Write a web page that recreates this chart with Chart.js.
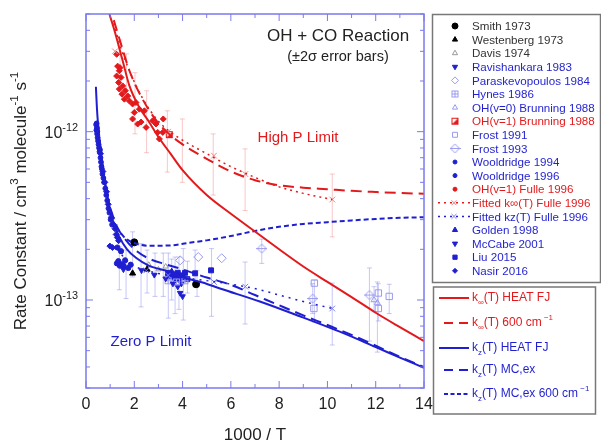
<!DOCTYPE html>
<html>
<head>
<meta charset="utf-8">
<script src="https://cdn.jsdelivr.net/npm/chart.js@4.4.1/dist/chart.umd.min.js"></script>
<style>
  html, body { margin: 0; padding: 0; background: #fff; }
</style>
</head>
<body>
<canvas id="chart" width="601" height="445"></canvas>
<script>
// ---- curves (1000/T, k) ----
const kInfHeatX = [0.97, 1.2, 1.5, 1.8, 2.2, 2.6, 3.0, 3.5, 4.0, 5.0, 6.0, 7.0, 8.0, 9.0, 10.0, 11.0, 12.0, 13.0, 14.0];
const kInfHeatY = [5.0e-12, 3.9e-12, 2.7e-12, 1.87e-12, 1.4e-12, 1.15e-12, 9.3e-13, 7.4e-13, 5.9e-13, 4.2e-13, 3.25e-13, 2.55e-13, 2.0e-13, 1.58e-13, 1.28e-13, 1.04e-13, 8.4e-14, 6.9e-14, 5.7e-14];
const kInf600X = [1.15, 1.4, 1.8, 2.3, 2.9, 3.4, 4, 5, 6, 7, 8, 9, 10, 11, 12, 13, 14];
const kInf600Y = [4.6e-12, 3.5e-12, 2.3e-12, 1.6e-12, 1.17e-12, 9.8e-13, 8.4e-13, 6.9e-13, 5.8e-13, 5.15e-13, 4.8e-13, 4.65e-13, 4.55e-13, 4.45e-13, 4.38e-13, 4.32e-13, 4.28e-13];
const kInfFulleX = [1.15, 1.4, 1.8, 2.3, 2.9, 3.4, 4, 5, 6, 7, 8, 9, 10.2];
const kInfFulleY = [4.4e-12, 3.3e-12, 2.3e-12, 1.62e-12, 1.2e-12, 1.02e-12, 8.9e-13, 7.4e-13, 6.2e-13, 5.35e-13, 4.7e-13, 4.3e-13, 3.95e-13];
const kInfFulleMarks = [[1.2, 3.0e-12], [3.4, 1.0e-12], [5.3, 7.2e-13], [6.6, 5.6e-13], [10.2, 3.95e-13]];

const kzHeatX = [0.41, 0.45, 0.5, 0.55, 0.6, 0.7, 0.8, 0.9, 1.0, 1.13, 1.38, 1.7, 2.07, 2.6, 3.45, 3.9, 4.83, 5.55, 7.2, 8.86, 10.66, 12, 13, 14];
const kzHeatY = [1.85e-12, 1.4e-12, 1.1e-12, 9.2e-13, 7.9e-13, 6.0e-13, 4.8e-13, 3.95e-13, 3.35e-13, 2.92e-13, 2.37e-13, 2.0e-13, 1.78e-13, 1.6e-13, 1.47e-13, 1.38e-13, 1.27e-13, 1.17e-13, 9.8e-14, 8.0e-14, 6.35e-14, 5.25e-14, 4.55e-14, 3.95e-14];
const kzMcX = [0.5, 0.6, 0.7, 0.8, 0.9, 1.1, 1.3, 1.66, 2.1, 2.65, 3.3, 4, 5, 6, 7, 8, 9, 10, 11, 12, 13, 14];
const kzMcY = [1.1e-12, 8.0e-13, 6.1e-13, 4.9e-13, 4.05e-13, 3.2e-13, 2.7e-13, 2.26e-13, 1.95e-13, 1.75e-13, 1.63e-13, 1.52e-13, 1.36e-13, 1.23e-13, 1.07e-13, 9.3e-14, 8.1e-14, 7.1e-14, 6.2e-14, 5.35e-14, 4.6e-14, 4.0e-14];
const kz600X = [1.25, 1.6, 2.0, 2.6, 3.5, 4.2, 5, 6, 7, 8, 9, 10, 11, 12, 13, 14];
const kz600Y = [2.7e-13, 2.35e-13, 2.18e-13, 2.1e-13, 2.11e-13, 2.18e-13, 2.26e-13, 2.4e-13, 2.57e-13, 2.72e-13, 2.83e-13, 2.9e-13, 2.97e-13, 3.03e-13, 3.08e-13, 3.1e-13];
const kzFulleX = [1.3, 1.8, 2.5, 3.4, 4.5, 5.4, 6.6, 7.2, 8, 9, 10.2];
const kzFulleY = [2.0e-13, 1.65e-13, 1.5e-13, 1.4e-13, 1.33e-13, 1.28e-13, 1.2e-13, 1.15e-13, 1.07e-13, 9.8e-14, 8.9e-14];
const kzFulleMarks = [[2.5, 1.5e-13], [3.4, 1.4e-13], [5.3, 1.28e-13], [6.6, 1.2e-13], [10.2, 8.9e-14]];

// ---- measurements [1000/T, k] ----
const smith = [[2.0, 2.2e-13], [4.56, 1.24e-13]];
const westenberg = [[1.93, 1.44e-13], [2.53, 1.52e-13]];
const davis = [[2.6, 1.62e-13], [3.0, 1.52e-13], [3.3, 1.58e-13]];
const ravishankara = [[1.55, 1.52e-13], [2.3, 1.5e-13], [2.83, 1.41e-13], [3.3, 1.34e-13], [3.6, 1.25e-13]];
const paraskevopoulos = [[3.9, 1.72e-13], [4.65, 1.8e-13], [5.62, 1.77e-13]];
const hynes = [[3.4, 1.3e-13], [3.75, 1.28e-13], [4.1, 1.3e-13]];
const brunning0 = [[11.93, 1.0e-13], [12.07, 9.6e-14]];
const brunning1 = [[3.45, 9.6e-13]];
const frost91 = [[9.46, 1.26e-13], [9.44, 8.9e-14], [12.11, 1.1e-13], [12.11, 8.9e-14], [12.56, 1.05e-13]];
const frost93 = [[7.28, 2.02e-13], [9.39, 1.02e-13], [11.74, 1.07e-13]];
const wooldridge94 = [[1.28, 1.65e-13], [1.34, 1.7e-13], [1.4, 1.6e-13], [1.48, 1.63e-13], [1.55, 1.6e-13], [1.62, 1.72e-13], [1.75, 1.55e-13], [1.85, 1.62e-13], [1.3, 2.05e-13], [1.45, 1.95e-13]];
const wooldridge96 = [[0.42, 1.1e-12], [0.43, 1.02e-12], [0.44, 1.12e-12], [0.45, 1.05e-12], [0.46, 9.7e-13], [0.47, 1.0e-12], [0.48, 9.2e-13], [0.5, 8.8e-13], [0.52, 8.4e-13], [0.54, 8.0e-13], [0.56, 7.6e-13], [0.58, 7.8e-13], [0.6, 7.0e-13], [0.62, 6.6e-13], [0.64, 6.2e-13], [0.66, 6.0e-13], [0.68, 5.6e-13], [0.72, 5.3e-13], [0.75, 5.0e-13], [0.8, 4.6e-13], [0.84, 4.2e-13], [0.88, 3.9e-13], [0.93, 3.5e-13], [0.97, 3.3e-13], [1.02, 3.0e-13], [1.08, 2.8e-13]];
const fulle = [[1.27, 2.88e-12], [1.41, 2.4e-12], [1.31, 2.45e-12], [1.38, 2.3e-12], [1.27, 2.14e-12], [1.45, 2.1e-12], [1.35, 1.96e-12], [1.52, 1.87e-12], [1.38, 1.79e-12], [1.63, 1.75e-12], [1.49, 1.67e-12], [1.73, 1.63e-12], [1.59, 1.56e-12], [1.8, 1.52e-12], [1.93, 1.46e-12], [2.07, 1.49e-12], [2.21, 1.36e-12], [2.0, 1.3e-12], [2.42, 1.33e-12], [1.93, 1.19e-12], [2.28, 1.14e-12], [2.14, 1.11e-12], [2.49, 1.06e-12], [2.76, 1.16e-12], [2.9, 1.11e-12], [2.97, 9.9e-13], [3.04, 9.05e-13], [3.18, 9.9e-13], [3.2, 1.19e-12]];
const golden = [[3.55, 1.48e-13], [3.85, 1.32e-13]];
const mccabe = [[3.8, 1.2e-13], [3.9, 1.1e-13], [4.0, 1.05e-13], [3.95, 1.25e-13]];
const liu = [[3.4, 1.45e-13], [3.5, 1.38e-13], [3.6, 1.42e-13], [3.7, 1.35e-13], [3.8, 1.45e-13], [3.9, 1.4e-13], [4.0, 1.37e-13], [4.1, 1.45e-13], [4.2, 1.33e-13], [4.52, 1.44e-13], [5.18, 1.5e-13]];
const nasir = [[0.6, 7.4e-13], [0.7, 5.8e-13], [0.78, 5.0e-13], [0.85, 4.4e-13], [0.92, 3.7e-13], [0.99, 2.09e-13], [1.05, 3.1e-13], [1.1, 2.05e-13], [1.15, 2.8e-13], [1.2, 2.65e-13], [1.25, 2.45e-13], [1.3, 2.35e-13], [1.35, 2.25e-13]];

// error bars [1000/T, low, high]
const errRed = [[1.41, 1.79e-12, 3.5e-12], [1.68, 1.52e-12, 2.9e-12], [2.03, 9.7e-13, 2.24e-12], [2.51, 7.5e-13, 1.75e-12], [3.37, 5.75e-13, 1.33e-12], [3.99, 5.0e-13, 1.19e-12], [5.27, 4.2e-13, 9.7e-13], [6.59, 3.4e-13, 7.9e-13], [10.2, 2.37e-13, 5.6e-13]];
const errBlue = [[1.38, 1.15e-13, 2.07e-13], [1.66, 1.02e-13, 1.98e-13], [1.93, 1.37e-13, 2.54e-13], [2.28, 9.1e-14, 2.16e-13], [2.53, 1.1e-13, 1.98e-13], [2.86, 1.05e-13, 1.9e-13], [3.2, 1.05e-13, 1.9e-13], [3.41, 7.8e-14, 1.9e-13], [3.55, 1.0e-13, 1.75e-13], [3.69, 8.3e-14, 1.8e-13], [3.85, 8.8e-14, 1.8e-13], [4.03, 7.6e-14, 2.02e-13], [4.2, 1.1e-13, 1.7e-13], [4.52, 1.2e-13, 1.98e-13], [4.6, 1.05e-13, 1.5e-13], [5.2, 8e-14, 2.02e-13], [6.59, 7.2e-14, 1.68e-13], [7.28, 1.65e-13, 2.3e-13], [9.46, 7.4e-14, 1.31e-13], [9.39, 8.3e-14, 1.25e-13], [10.2, 5.4e-14, 1.26e-13], [11.74, 5.7e-14, 1.55e-13], [11.93, 8.5e-14, 1.2e-13], [12.07, 4.9e-14, 1.28e-13], [12.11, 7.5e-14, 1.25e-13], [12.56, 8.3e-14, 1.24e-13]];

const xTicks = [0, 2, 4, 6, 8, 10, 12, 14];
const yTickValues = [1e-13, 1e-12];
const yTickExps = ['-13', '-12'];

const FONT = '"Liberation Sans", Arial, sans-serif';
const RED = '#e3191c';
const BLUE = '#1f1fd1';
const LIGHT = '#9a9af0';
const FRAME = '#7a7aee';

function marker(w, draw) {
    const c = document.createElement('canvas');
    c.width = w; c.height = w;
    draw(c.getContext('2d'));
    return c;
}
const halfSquare = marker(9, g => {
    g.strokeStyle = RED; g.fillStyle = RED; g.lineWidth = 1;
    g.strokeRect(1.5, 1.5, 6, 6);
    g.beginPath(); g.moveTo(7.5, 1.5); g.lineTo(7.5, 7.5); g.lineTo(1.5, 7.5); g.closePath(); g.fill();
});
const boxPlus = marker(9, g => {
    g.strokeStyle = LIGHT; g.lineWidth = 1;
    g.strokeRect(1.5, 1.5, 6, 6);
    g.beginPath(); g.moveTo(4.5, 1.5); g.lineTo(4.5, 7.5); g.moveTo(1.5, 4.5); g.lineTo(7.5, 4.5); g.stroke();
});
const diamondBar = marker(11, g => {
    g.strokeStyle = LIGHT; g.lineWidth = 1;
    g.beginPath(); g.moveTo(5.5, 1); g.lineTo(10, 5.5); g.lineTo(5.5, 10); g.lineTo(1, 5.5); g.closePath();
    g.moveTo(0, 5.5); g.lineTo(11, 5.5); g.stroke();
});

function curve(xs, ys, color, dash, width) {
    return {
        data: xs.map((x, i) => ({ x: x, y: ys[i] })),
        showLine: true, borderColor: color, borderWidth: width, borderDash: dash,
        pointRadius: 0, cubicInterpolationMode: 'monotone'
    };
}
function points(arr, style, color, fill, radius, rotation) {
    return {
        data: arr.map(p => ({ x: p[0], y: p[1] })),
        showLine: false, pointStyle: style, pointRadius: radius, pointRotation: rotation || 0,
        borderColor: color, backgroundColor: fill ? color : 'rgba(0,0,0,0)', pointBorderWidth: 1
    };
}

const datasets = [
    curve(kInfHeatX, kInfHeatY, RED, [], 2),
    curve(kInf600X, kInf600Y, RED, [11, 6], 2),
    curve(kInfFulleX, kInfFulleY, RED, [2, 4], 1.5),
    curve(kzHeatX, kzHeatY, BLUE, [], 2),
    curve(kzMcX, kzMcY, BLUE, [11, 6], 2),
    curve(kz600X, kz600Y, BLUE, [5, 3], 2),
    curve(kzFulleX, kzFulleY, BLUE, [2, 5], 1.5),
    points(kInfFulleMarks, 'crossRot', '#f08080', false, 4),
    points(kzFulleMarks, 'crossRot', '#8080f0', false, 4),
    points(smith, 'circle', '#000', true, 3.5),
    points(westenberg, 'triangle', '#000', true, 3.5),
    points(davis, 'triangle', '#999', false, 3),
    points(ravishankara, 'triangle', BLUE, true, 3.2, 180),
    points(paraskevopoulos, 'rectRot', LIGHT, false, 4.5),
    points(hynes, boxPlus, LIGHT, false, 4),
    points(brunning0, 'triangle', LIGHT, false, 3.5),
    points(brunning1, halfSquare, RED, true, 4),
    points(frost91, 'rect', LIGHT, false, 4.5),
    points(frost93, diamondBar, LIGHT, false, 5),
    points(wooldridge94, 'circle', BLUE, true, 2.6),
    points(wooldridge96, 'circle', BLUE, true, 2.4),
    points(fulle, 'rectRot', RED, true, 3),
    points(golden, 'triangle', BLUE, true, 3.2),
    points(mccabe, 'triangle', BLUE, true, 3.2, 180),
    points(liu, 'rect', BLUE, true, 3.5),
    points(nasir, 'rectRot', BLUE, true, 3)
];

// legend rows: name, colour, marker
const legendNames = ['Smith 1973', 'Westenberg 1973', 'Davis 1974', 'Ravishankara 1983', 'Paraskevopoulos 1984', 'Hynes 1986', 'OH(v=0) Brunning 1988', 'OH(v=1) Brunning 1988', 'Frost 1991', 'Frost 1993', 'Wooldridge 1994', 'Wooldridge 1996', 'OH(v=1) Fulle 1996', 'Fitted k\u221E(T) Fulle 1996', 'Fitted kz(T) Fulle 1996', 'Golden 1998', 'McCabe 2001', 'Liu 2015', 'Nasir 2016'];
const legendText = ['#333', '#333', '#333', BLUE, BLUE, BLUE, BLUE, RED, BLUE, BLUE, BLUE, BLUE, RED, RED, BLUE, BLUE, BLUE, BLUE, BLUE];
const legendMarks = [
    ['circle', '#000', true, 3], ['triangle', '#000', true, 3], ['triangle', '#999', false, 3], ['triangle', BLUE, true, 3, 180],
    ['rectRot', LIGHT, false, 3.5], [boxPlus], ['triangle', LIGHT, false, 3], [halfSquare], ['rect', LIGHT, false, 3.5], [diamondBar],
    ['circle', BLUE, true, 2], ['circle', BLUE, true, 2], ['circle', RED, true, 2], ['fitR'], ['fitB'],
    ['triangle', BLUE, true, 3], ['triangle', BLUE, true, 3, 180], ['rect', BLUE, true, 3], ['rectRot', BLUE, true, 2.5]
];
const legend2 = [
    { sub: '\u221E', rest: '(T) HEAT FJ', sup: '', color: RED, dash: [] },
    { sub: '\u221E', rest: '(T) 600 cm', sup: ' \u22121', color: RED, dash: [9, 6] },
    { sub: 'z', rest: '(T) HEAT FJ', sup: '', color: BLUE, dash: [] },
    { sub: 'z', rest: '(T) MC,ex', sup: '', color: BLUE, dash: [9, 6] },
    { sub: 'z', rest: '(T) MC,ex 600 cm', sup: ' \u22121', color: BLUE, dash: [4, 2.5] }
];
const legend2Y = [298, 323, 348, 370, 394];

function rich(ctx, parts, x, y, size, align) {
    let w = 0;
    parts.forEach(p => { ctx.font = (p[1] ? size * 0.68 : size) + 'px ' + FONT; p.w = ctx.measureText(p[0]).width; w += p.w; });
    let cx = align === 'center' ? x - w / 2 : (align === 'right' ? x - w : x);
    ctx.textAlign = 'left';
    parts.forEach(p => {
        ctx.font = (p[1] ? size * 0.68 : size) + 'px ' + FONT;
        ctx.fillText(p[0], cx, y - p[1] * size * 0.38);
        cx += p.w;
    });
}

function errBars(ctx, xs, ys, list, color) {
    ctx.strokeStyle = color; ctx.lineWidth = 1;
    ctx.beginPath();
    list.forEach(e => {
        const px = xs.getPixelForValue(e[0]);
        const p1 = ys.getPixelForValue(e[1]);
        const p2 = ys.getPixelForValue(e[2]);
        ctx.moveTo(px, p1); ctx.lineTo(px, p2);
        ctx.moveTo(px - 2.5, p1); ctx.lineTo(px + 2.5, p1);
        ctx.moveTo(px - 2.5, p2); ctx.lineTo(px + 2.5, p2);
    });
    ctx.stroke();
}

const decor = {
    id: 'decor',
    beforeDatasetsDraw(chart) {
        const ctx = chart.ctx, a = chart.chartArea;
        ctx.save();
        ctx.beginPath(); ctx.rect(a.left, a.top, a.right - a.left, a.bottom - a.top); ctx.clip();
        errBars(ctx, chart.scales.x, chart.scales.y, errRed, 'rgba(236,110,110,0.38)');
        errBars(ctx, chart.scales.x, chart.scales.y, errBlue, 'rgba(110,110,236,0.38)');
        ctx.restore();
    },
    afterDraw(chart) {
        const ctx = chart.ctx, a = chart.chartArea, xs = chart.scales.x, ys = chart.scales.y;
        ctx.save();
        // frame and inward ticks
        ctx.strokeStyle = FRAME; ctx.lineWidth = 1.5;
        ctx.strokeRect(a.left, a.top, a.right - a.left, a.bottom - a.top);
        ctx.lineWidth = 1;
        ctx.beginPath();
        for (let d = -14; d <= -12; d++) {
            for (let m = 1; m <= 9; m++) {
                const v = m * Math.pow(10, d);
                if (v < ys.min || v > ys.max) continue;
                const py = ys.getPixelForValue(v), len = m === 1 ? 7 : 4;
                ctx.moveTo(a.left, py); ctx.lineTo(a.left + len, py);
                ctx.moveTo(a.right, py); ctx.lineTo(a.right - len, py);
            }
        }
        for (let i = 0; i <= 14; i++) {
            const px = xs.getPixelForValue(i), len = i % 2 === 0 ? 7 : 4;
            ctx.moveTo(px, a.bottom); ctx.lineTo(px, a.bottom - len);
            ctx.moveTo(px, a.top); ctx.lineTo(px, a.top + len);
        }
        ctx.stroke();

        // y tick labels and titles
        ctx.fillStyle = '#222'; ctx.textBaseline = 'middle';
        yTickValues.forEach((v, i) => {
            rich(ctx, [['10', 0], [yTickExps[i], 1]], 78, ys.getPixelForValue(v) + 2, 16, 'right');
        });
        ctx.save();
        ctx.translate(21, (a.top + a.bottom) / 2);
        ctx.rotate(-Math.PI / 2);
        rich(ctx, [['Rate Constant / cm', 0], ['3', 1], [' molecule', 0], ['-1', 1], [' s', 0], ['-1', 1]], 0, 0, 17, 'center');
        ctx.restore();
        ctx.font = '17px ' + FONT; ctx.textAlign = 'center';
        ctx.fillText('1000 / T', (a.left + a.right) / 2, 435);

        // annotations
        ctx.fillStyle = '#222';
        ctx.font = '17px ' + FONT; ctx.fillText('OH + CO Reaction', 338, 36);
        ctx.font = '14.5px ' + FONT; ctx.fillText('(\u00B12\u03C3 error bars)', 338, 57);
        ctx.fillStyle = RED; ctx.font = '15px ' + FONT; ctx.fillText('High P Limit', 298, 138);
        ctx.fillStyle = BLUE; ctx.fillText('Zero P Limit', 151, 342);

        // legend boxes
        ctx.strokeStyle = '#777'; ctx.lineWidth = 1.5;
        ctx.strokeRect(432.5, 14.5, 168, 268);
        ctx.strokeRect(433.5, 287, 162, 127);
        legendNames.forEach((name, i) => {
            const y = 26 + i * 13.6, m = legendMarks[i];
            if (m[0] === 'fitR' || m[0] === 'fitB') {
                const col = m[0] === 'fitR' ? RED : BLUE;
                ctx.strokeStyle = col; ctx.lineWidth = 1.5; ctx.setLineDash([2, 4]);
                ctx.beginPath(); ctx.moveTo(438, y); ctx.lineTo(470, y); ctx.stroke();
                ctx.setLineDash([]); ctx.lineWidth = 1;
                ctx.strokeStyle = m[0] === 'fitR' ? '#f08080' : '#8080f0';
                Chart.helpers.drawPoint(ctx, { pointStyle: 'crossRot', radius: 3.5, rotation: 0, borderWidth: 1 }, 454, y);
            } else if (typeof m[0] !== 'string') {
                ctx.drawImage(m[0], 455 - m[0].width / 2, y - m[0].height / 2);
            } else {
                ctx.strokeStyle = m[1]; ctx.fillStyle = m[2] ? m[1] : 'rgba(0,0,0,0)'; ctx.lineWidth = 1;
                Chart.helpers.drawPoint(ctx, { pointStyle: m[0], radius: m[3], rotation: m[4] || 0, borderWidth: 1 }, 455, y);
            }
            ctx.fillStyle = legendText[i]; ctx.font = '11.6px ' + FONT; ctx.textAlign = 'left';
            ctx.fillText(name, 472, y + 1);
        });

        legend2.forEach((e, i) => {
            const y = legend2Y[i];
            ctx.strokeStyle = e.color; ctx.lineWidth = 2; ctx.setLineDash(e.dash);
            ctx.beginPath(); ctx.moveTo(e.dash.length ? 444 : 439, y); ctx.lineTo(469, y); ctx.stroke();
            ctx.setLineDash([]);
            ctx.fillStyle = e.color;
            let x = 472;
            ctx.font = '12px ' + FONT; ctx.fillText('k', x, y); x += ctx.measureText('k').width;
            ctx.font = '8px ' + FONT; ctx.fillText(e.sub, x, y + 5); x += ctx.measureText(e.sub).width;
            ctx.font = '12px ' + FONT; ctx.fillText(e.rest, x, y); x += ctx.measureText(e.rest).width;
            if (e.sup) { ctx.font = '8px ' + FONT; ctx.fillText(e.sup, x, y - 5); }
        });
        ctx.restore();
    }
};

new Chart(document.getElementById('chart'), {
    type: 'scatter',
    data: { datasets: datasets },
    options: {
        responsive: false,
        animation: false,
        events: [],
        layout: { padding: { top: 14, right: 177, left: 0, bottom: 0 } },
        plugins: { legend: { display: false }, tooltip: { enabled: false } },
        scales: {
            x: {
                type: 'linear', min: 0, max: 14,
                afterFit: s => { s.height = 57; },
                afterBuildTicks: s => { s.ticks = xTicks.map(v => ({ value: v })); },
                grid: { display: false, drawTicks: false },
                border: { display: false },
                ticks: { font: { size: 16, family: FONT }, color: '#222', padding: 7, maxRotation: 0 }
            },
            y: {
                type: 'logarithmic', min: 3e-14, max: 5e-12,
                afterFit: s => { s.width = 86; },
                grid: { display: false, drawTicks: false },
                border: { display: false },
                ticks: { display: false }
            }
        }
    },
    plugins: [decor]
});
</script>
</body>
</html>
